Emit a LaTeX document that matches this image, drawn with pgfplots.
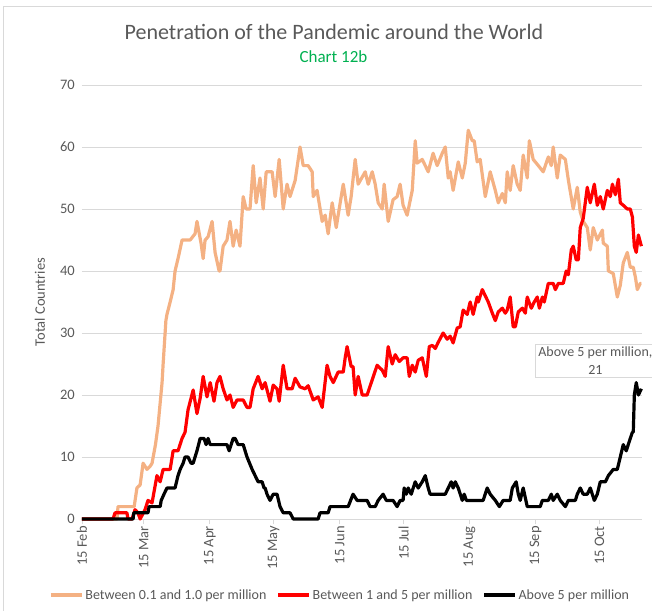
\documentclass[border=0pt]{standalone}
\usepackage{fontspec}
\setmainfont{Carlito}
\usepackage{pgfplots}
\pgfplotsset{compat=1.18}
\definecolor{txtgray}{RGB}{89,89,89}
\definecolor{gridgray}{RGB}{217,217,217}
\definecolor{lorange}{RGB}{244,177,131}
\definecolor{xlgreen}{RGB}{0,176,80}
\definecolor{xred}{RGB}{255,0,0}
\begin{document}
\begin{tikzpicture}
\useasboundingbox (-82bp,-92bp) rectangle (570bp,519bp);
\begin{axis}[
  at={(0,0)}, anchor=south west,
  scale only axis, width=560bp, height=434bp,
  xmin=0, xmax=263, ymin=0, ymax=70,
  clip=false,
  axis x line*=bottom, axis y line*=left,
  x axis line style={draw=gridgray, line width=0.75bp, -},
  y axis line style={draw=none},
  ytick={0,10,...,70},
  xtick={0,29,60,90,121,151,182,213,243},
  xticklabels={15 Feb,15 Mar,15 Apr,15 May,15 Jun,15 Jul,15 Aug,15 Sep,15 Oct},
  ymajorgrids, grid style={draw=gridgray, line width=0.75bp},
  tick align=outside, major tick length=5bp,
  xtick style={draw=gridgray, line width=0.75bp},
  ytick style={draw=none},
  /pgf/number format/assume math mode=true,
  ticklabel style={font=\fontsize{14.5bp}{16bp}\selectfont, text=txtgray},
  xticklabel style={rotate=90, anchor=east, inner sep=2bp},
  yticklabel style={inner sep=2bp},
  ylabel={Total Countries},
  every axis y label/.style={at={(axis description cs:-0.075,0.5)}, rotate=90, anchor=center,
    font=\fontsize{14.5bp}{17bp}\selectfont, text=txtgray},
  legend style={at={(axis description cs:0.461,-0.175)}, anchor=center, draw=none,
    font=\fontsize{14bp}{16bp}\selectfont, text=txtgray, legend columns=3,
    /tikz/every even column/.append style={column sep=8bp}},
  legend image code/.code={\draw[#1] (0bp,0bp) -- (31bp,0bp);},
  legend cell align=left,
  every axis plot/.append style={line width=3.2bp, line join=round, no markers},
]
\addplot[lorange] coordinates {
(0,0) (16.5,0) (16.9,2) (23.5,2) (24.5,2) (25.8,5) (27.3,5.5) (28.7,9) (30.5,8) (32.0,8.5) (32.9,9)
(34.5,12) (35.7,15) (37.6,22) (38.1,25) (39.4,32) (39.9,33) (41.4,35) (42.8,37) (43.7,40) (45.1,42)
(47.0,45) (50.8,45) (53.1,46) (54.0,48) (55.9,44.5) (56.9,42) (57.8,45) (59.2,45.5) (61.1,48) (62.5,43)
(64.4,40) (64.8,40) (66.3,44) (68.1,45) (69.5,48) (71.0,44) (72.4,46.6) (74.2,44) (75.7,52) (77.1,50)
(78.9,50) (80.4,57) (81.8,51) (83.6,55) (85.1,50) (86.5,56) (89.3,56) (90.7,52) (92.6,58) (94.5,50)
(96.3,54) (97.7,52) (100.1,54.6) (102.4,60) (103.9,57) (106.2,57) (108.1,56) (108.6,52) (110.4,53)
(112.8,48) (114.2,49) (115.6,46) (117.5,51) (119.4,47) (120.3,49) (122.7,54) (125.0,49) (126.4,52)
(128.3,58) (129.7,54) (133.0,56) (134.4,54) (136.3,56) (137.7,54) (139.1,51) (141.0,50) (141.9,54)
(143.8,48) (146.1,51.5) (148.0,52) (149.4,54) (150.8,50.6) (152.7,49) (155.1,53) (156.5,61) (157.4,57.4)
(159.8,58) (162.6,56) (164.9,59) (166.8,57) (169.2,59) (170.6,60) (172.0,55) (172.9,56) (174.3,53)
(176.7,57.6) (178.6,55) (180.0,57.4) (181.4,62.7) (183.3,61) (184.2,61) (185.6,57.6) (187.0,58)
(189.4,52) (191.7,56) (194.1,53) (195.5,51) (197.4,52.5) (198.8,51) (199.7,56) (201.1,53) (202.5,57)
(204.4,54) (205.8,53) (207.2,58.7) (209.1,55) (210.1,61) (211.9,58) (214.3,57) (216.6,56) (219.0,58.4)
(220.4,57) (221.3,60) (223.2,55) (224.6,58.7) (227.0,58) (228.4,54.7) (230.7,50) (232.6,53.5)
(234.0,49.5) (235.4,48) (237.3,47) (238.7,43.4) (240.1,47) (242.0,45) (244.4,46.6) (244.8,44.5)
(246.7,44) (247.2,40) (249.5,39.6) (251.4,35.8) (252.8,37.7) (254.2,41.3) (256.1,43) (257.5,40.6)
(258.9,40.6) (259.9,39) (260.8,37) (262.2,38) (262.7,38)
};
\addlegendentry{Between 0.1 and 1.0 per million}
\addplot[xred] coordinates {
(0,0) (14.6,0) (15.5,1) (21.1,1) (21.6,0) (23.5,0) (24.9,1.5) (26.3,1) (27.3,0) (29.6,1.5) (31.0,3)
(32.9,2.6) (35.2,7) (36.7,6) (38.1,8) (41.4,8) (42.8,11) (45.1,11) (47.0,13) (48.4,14) (49.8,17.6)
(52.2,20.8) (54.0,17) (55.5,19.5) (56.9,23) (58.7,19.7) (60.2,22) (62.0,19) (63.4,22) (64.8,23)
(66.3,21) (68.1,19.2) (69.5,20) (71.0,18) (72.8,19.2) (75.7,19.2) (77.5,18) (78.9,18) (80.4,21)
(82.7,23) (84.6,21) (86.0,22) (88.3,19) (89.8,21.6) (91.6,21) (92.6,19) (94.5,24.8) (96.3,21)
(98.7,21) (100.1,22.7) (102.4,21.3) (104.8,21) (106.2,21.5) (108.6,19.2) (110.9,19.7) (112.8,18)
(115.1,24.8) (116.5,23) (118.0,22) (120.3,23.7) (122.7,23.7) (123.6,26) (124.5,27.8) (126.4,24.6)
(127.3,24.6) (128.3,20) (129.7,23) (131.6,20) (133.9,20) (138.6,24.8) (141.0,24) (142.4,23)
(143.8,27.8) (145.7,25) (147.1,26.5) (149.0,25.4) (150.8,26) (152.7,26) (153.7,23) (155.1,24.8)
(156.5,23.7) (157.9,25.6) (159.8,26) (161.7,23) (163.1,27.8) (164.5,28) (165.9,27.5) (167.3,28.5)
(169.6,30) (171.5,29) (172.9,29.5) (174.3,28.4) (176.2,30.8) (177.6,31) (179.0,33.7) (180.9,33)
(182.3,35) (183.7,33) (185.6,35.8) (186.1,35) (188.0,37) (189.4,36) (190.8,35) (192.7,33.2)
(194.1,32) (195.5,33.4) (197.4,34) (198.8,33.2) (199.7,33.7) (201.1,35.8) (202.5,31) (203.5,31)
(204.9,33.4) (206.8,34) (208.2,33.2) (209.1,35.8) (211.0,34) (212.4,35) (213.8,35.8) (214.8,34)
(216.2,35.8) (217.1,35) (219.0,38) (221.3,38) (222.3,37) (223.7,38) (226.0,38) (227.4,40)
(228.4,39.4) (229.8,43.4) (230.7,44) (232.1,41.8) (233.1,41.8) (234.0,47) (235.4,48.5) (237.3,53.5)
(238.7,51) (240.6,54) (242.0,50.6) (243.4,52) (244.8,50) (246.7,53) (248.1,52) (249.1,54)
(250.5,52.3) (251.9,54.8) (252.8,51) (254.2,50.6) (256.1,50) (257.5,50) (258.5,48.7) (259.4,44)
(260.3,43) (261.3,45.8) (262.7,44)
};
\addlegendentry{Between 1 and 5 per million}
\addplot[black] coordinates {
(0,0) (24.0,0) (24.3,1) (31.0,1) (31.5,2) (36.7,2) (37.2,3) (38.5,4) (39.9,5) (43.7,5) (45.1,7)
(46.1,8) (47.5,9) (48.4,10) (49.8,10) (51.2,9) (52.2,9) (54.0,11) (55.5,13) (57.3,13) (58.3,12)
(59.2,13) (60.2,12) (68.1,12) (69.1,11) (71.0,13) (71.9,13) (73.3,12) (75.7,12) (77.5,10) (79.9,8)
(81.3,7) (82.7,6) (84.6,6) (85.5,5) (86.0,5) (86.9,4) (88.3,3) (89.8,4) (91.6,4) (93.0,2) (94.5,1)
(97.7,1) (99.2,0) (110.9,0) (111.8,1) (115.6,1) (116.5,2) (125.0,2) (127.3,4) (129.2,3) (133.9,3)
(135.3,2) (137.7,2) (139.1,3) (141.4,4) (142.9,3) (146.1,3) (148.0,2) (149.4,3) (150.8,3) (151.3,5)
(152.3,4) (153.2,5) (154.6,4) (156.5,6) (157.9,5) (159.8,6) (161.2,7) (162.6,5) (163.5,4) (170.6,4)
(172.0,5) (173.4,6) (174.3,5) (175.3,6) (176.7,5) (178.6,3) (179.5,4) (180.5,3) (188.4,3) (190.3,5)
(191.7,4) (194.1,3) (196.0,2) (197.8,3) (201.1,3) (202.1,5) (203.9,6) (204.9,4) (205.8,3) (207.2,5)
(209.1,2) (215.2,2) (216.2,3) (219.0,3) (220.4,4) (221.3,3) (223.2,4) (224.6,3) (227.0,2) (228.4,3)
(231.7,3) (232.6,4) (234.0,5) (235.4,4) (237.3,4) (238.7,5) (240.6,3) (242.0,4) (243.4,6) (245.8,6)
(247.2,7) (249.5,8) (251.4,8) (252.8,10) (254.2,12) (255.6,11) (257.5,13) (258.5,14) (258.9,14)
(259.4,20) (260.3,22) (261.3,20) (262.7,21)
};
\addlegendentry{Above 5 per million}
\node[draw=gridgray, fill=white, line width=0.75bp, align=center, inner sep=3bp,
  font=\fontsize{14bp}{18bp}\selectfont, text=txtgray]
  at (axis cs:241.1,25.5) {Above 5 per million,\\21};
\end{axis}
\draw[gridgray, line width=0.75bp] (-79bp,-200bp) -- (-79bp,513bp) -- (700bp,513bp);
\node[anchor=base, font=\fontsize{22bp}{25bp}\selectfont, text=txtgray] at (252bp,479bp)
  {Penetration of the Pandemic around the World};
\node[anchor=base, font=\fontsize{17bp}{20bp}\selectfont, text=xlgreen] at (251.5bp,456bp)
  {Chart 12b};
\end{tikzpicture}
\end{document}
